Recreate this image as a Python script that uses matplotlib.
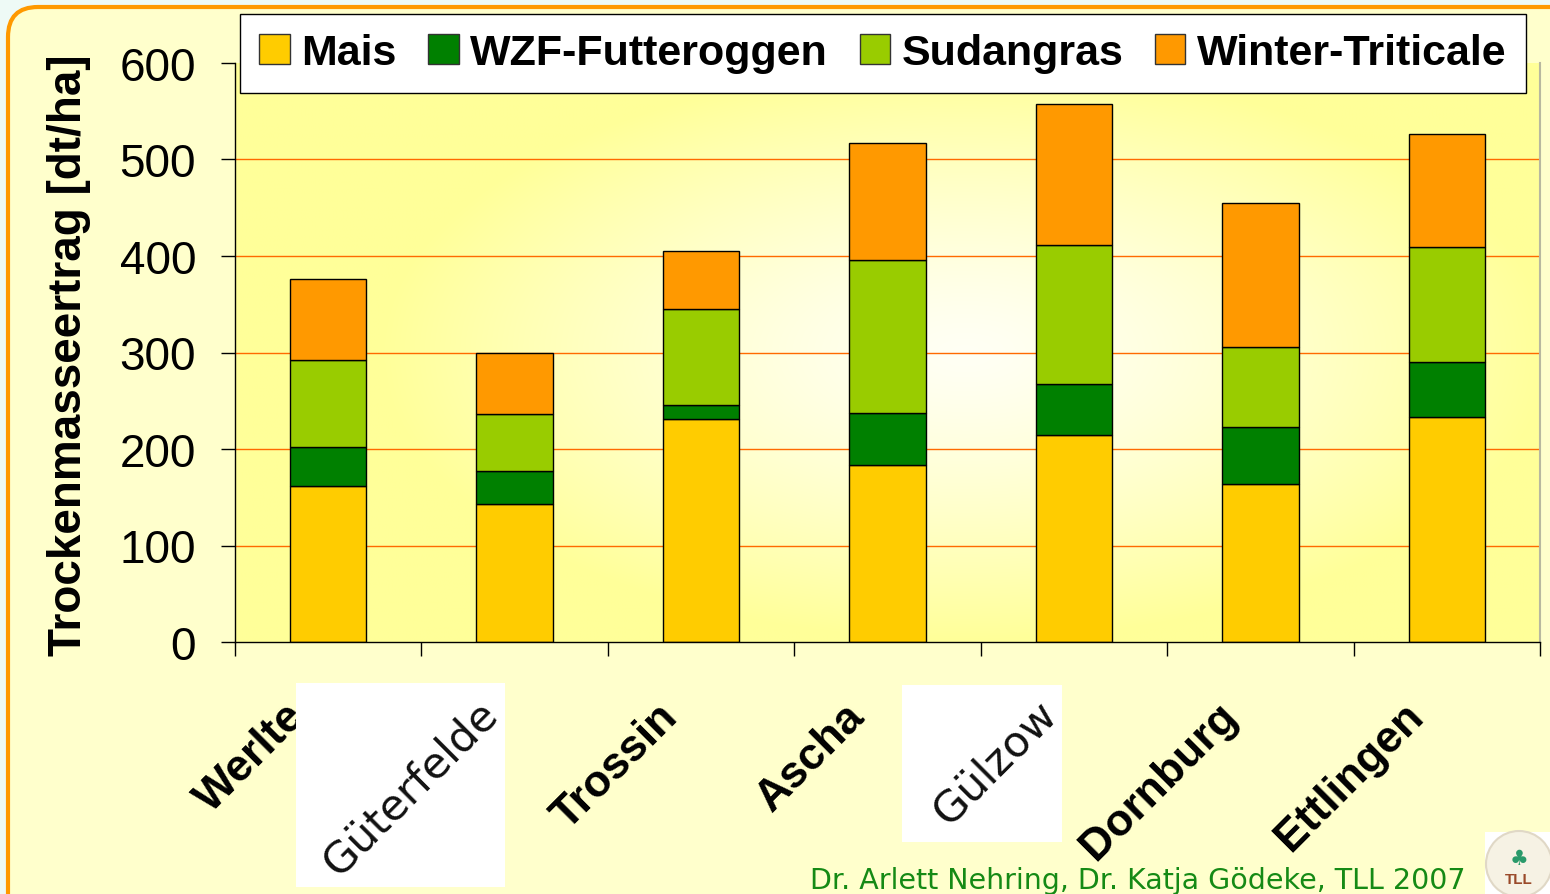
import numpy as np
import matplotlib
matplotlib.use("Agg")
import matplotlib.pyplot as plt
from matplotlib.patches import Rectangle, FancyBboxPatch, Circle, Patch
from matplotlib.transforms import ScaledTranslation
from matplotlib.colors import to_rgb

plt.rcParams['font.family'] = ['Liberation Sans', 'DejaVu Sans']

# Trockenmasseertrag je Standort und Kultur [dt/ha]
standorte = ['Werlte', 'Güterfelde', 'Trossin', 'Ascha', 'Gülzow', 'Dornburg', 'Ettlingen']
mais = [162, 143, 231, 183, 214, 164, 233]
wzf_futterroggen = [40, 34, 15, 54, 53, 59, 57]
sudangras = [90, 59, 99, 159, 144, 83, 119]
winter_triticale = [84, 63, 60, 121, 146, 149, 117]

kulturen = ['Mais', 'WZF-Futteroggen', 'Sudangras', 'Winter-Triticale']
farben = ['#ffcc00', '#008000', '#99cc00', '#ff9900']
y_ticks = [0, 100, 200, 300, 400, 500, 600]
bild_labels = ['Güterfelde', 'Gülzow']   # im Original als Bild eingefuegt

fig = plt.figure(figsize=(15.5, 8.95), dpi=100)
fig.patch.set_facecolor('#eefaf6')

# Folienhintergrund mit orangem Rahmen
rahmen = FancyBboxPatch((0.08, -0.4), 15.8, 9.27, boxstyle='round,pad=0,rounding_size=0.3',
                        transform=fig.dpi_scale_trans, facecolor='#ffffcc',
                        edgecolor='#ff9900', linewidth=3, zorder=-5)
fig.add_artist(rahmen)

ax = fig.add_axes([235 / 1550, 1 - 643 / 895, 1305 / 1550, 579 / 895])
ax.set_facecolor('#ffff99')

x = np.arange(len(standorte))
ax.set_xlim(-0.5, len(standorte) - 0.5)
ax.set_ylim(0, 600)

# Verlauf gelb -> weiss im Diagrammbereich
gx, gy = np.meshgrid(np.linspace(0, 1, 300), np.linspace(0, 1, 200))
r = np.sqrt(((gx - 0.56) / 0.45) ** 2 + ((gy - 0.5) / 0.5) ** 2)
t = np.clip(r, 0, 1) ** 1.3
gelb = np.array(to_rgb('#ffff99'))
weiss = np.array([1.0, 1.0, 0.96])
img = weiss[None, None, :] * (1 - t[..., None]) + gelb[None, None, :] * t[..., None]
ax.imshow(img, extent=(-0.5, len(standorte) - 0.5, 0, 600), aspect='auto',
          origin='lower', zorder=0, interpolation='bilinear')

for yv in y_ticks[1:-1]:
    ax.axhline(yv, color='#ff6a00', linewidth=1, zorder=1)

breite = 0.41
unten = np.zeros(len(standorte))
for werte, farbe, name in zip([mais, wzf_futterroggen, sudangras, winter_triticale], farben, kulturen):
    ax.bar(x, werte, breite, bottom=unten, color=farbe, edgecolor='black',
           linewidth=1, zorder=2, label=name)
    unten += np.array(werte)

# Achsen
ax.spines['top'].set_visible(False)
ax.spines['right'].set_color('#b8b8a0')
ax.spines['right'].set_linewidth(1.5)
ax.spines['left'].set_linewidth(1)
ax.spines['bottom'].set_linewidth(1)

ax.set_yticks(y_ticks)
ax.tick_params(axis='y', length=10, width=1, pad=18, labelsize=33)

ax.set_xticks(x)
ax.set_xticklabels(['' if s in bild_labels else s for s in standorte])
ax.set_xticks(np.arange(-0.5, len(standorte)), minor=True)
ax.tick_params(axis='x', which='major', length=0, pad=0)
ax.tick_params(axis='x', which='minor', length=10, width=1)

versatz = ScaledTranslation(-0.44, -0.53, fig.dpi_scale_trans)
for lab in ax.get_xticklabels():
    lab.set_rotation(45)
    lab.set_ha('right')
    lab.set_va('top')
    lab.set_rotation_mode('anchor')
    lab.set_fontsize(32)
    lab.set_fontweight('bold')
    lab.set_transform(lab.get_transform() + versatz)

# weisse Bildflaechen fuer Güterfelde und Gülzow
ax.add_patch(Rectangle((2.96, 0.07), 2.09, 2.04, transform=fig.dpi_scale_trans,
                       facecolor='white', edgecolor='none', clip_on=False, zorder=4))
ax.add_patch(Rectangle((9.02, 0.52), 1.60, 1.57, transform=fig.dpi_scale_trans,
                       facecolor='white', edgecolor='none', clip_on=False, zorder=4))
bild_versatz = ScaledTranslation(-0.38, -0.50, fig.dpi_scale_trans)
for name in bild_labels:
    i = standorte.index(name)
    ax.text(i, 0, name, transform=ax.get_xaxis_transform() + bild_versatz,
            rotation=45, ha='right', va='top', rotation_mode='anchor',
            fontsize=31, family='DejaVu Sans', color='#111111', clip_on=False, zorder=5)

ax.set_ylabel('Trockenmasseertrag [dt/ha]', fontsize=33, fontweight='bold')
ax.yaxis.set_label_coords(-0.11, 0.497)

# Legende
handles = [Patch(facecolor=f, edgecolor='#333333', linewidth=1) for f in farben]
leg = fig.legend(handles, kulturen, loc='upper left', bbox_to_anchor=(240 / 1550, 1 - 15 / 895),
                 ncol=4, frameon=True, fancybox=False, shadow=False, borderaxespad=0,
                 prop={'size': 31, 'weight': 'bold'}, handlelength=0.7, handleheight=0.7,
                 handletextpad=0.27, columnspacing=0.74, borderpad=0.45)
leg.get_frame().set_edgecolor('black')
leg.get_frame().set_linewidth(1)
leg.get_frame().set_facecolor('white')
leg.get_frame().set_alpha(1)

fig.text(810 / 1550, 6 / 895, 'Dr. Arlett Nehring, Dr. Katja Gödeke, TLL 2007',
         color='#158a15', fontsize=20.5, family='DejaVu Sans', va='baseline', ha='left')

# kleines TLL-Logo
fig.add_artist(Rectangle((14.85, 0.0), 0.7, 0.62, transform=fig.dpi_scale_trans,
                         facecolor='white', edgecolor='none'))
logo = Circle((15.19, 0.30), 0.33, transform=fig.dpi_scale_trans,
              facecolor='#f6f2e4', edgecolor='#e0d8c6', linewidth=1.5)
fig.add_artist(logo)
fig.text(15.19 / 15.5, 0.08 / 8.95, 'TLL', color='#9a4a2a', fontsize=11, fontweight='bold',
         ha='center', va='bottom')
fig.text(15.19 / 15.5, 0.26 / 8.95, '♣', color='#2a9a6a', fontsize=15,
         ha='center', va='bottom', family='DejaVu Sans')

fig.savefig('out.png', dpi=100, facecolor=fig.get_facecolor())
